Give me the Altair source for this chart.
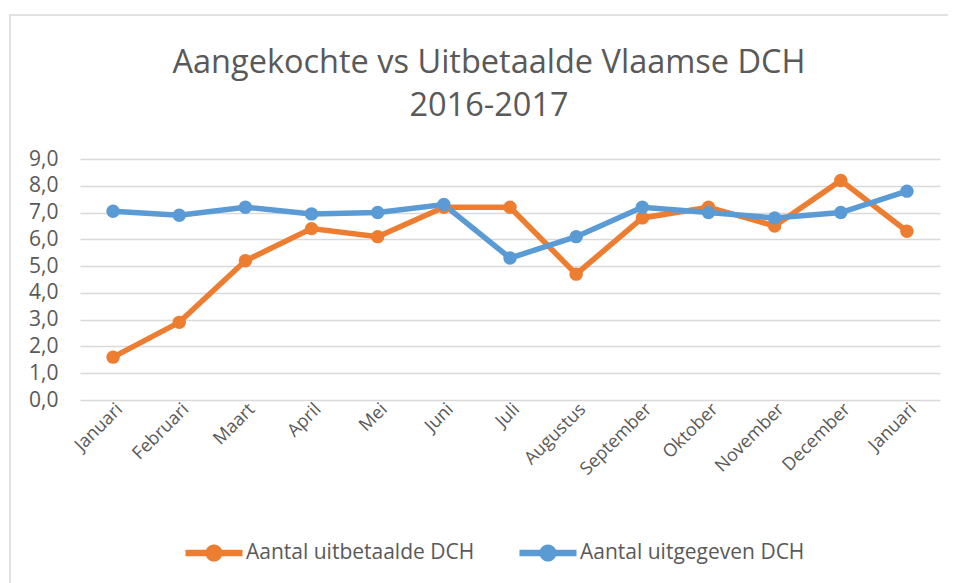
import altair as alt
import pandas as pd

months = ["Januari", "Februari", "Maart", "April", "Mei", "Juni", "Juli",
          "Augustus", "September", "Oktober", "November", "December", "Januari"]
uitbetaald = [1.6, 2.9, 5.2, 6.4, 6.1, 7.2, 7.2, 4.7, 6.8, 7.2, 6.5, 8.2, 6.3]
uitgegeven = [7.05, 6.9, 7.2, 6.95, 7.0, 7.3, 5.3, 6.1, 7.2, 7.0, 6.8, 7.0, 7.8]
series = ["Aantal uitbetaalde DCH", "Aantal uitgegeven DCH"]
colors = ["#ED7D31", "#5B9BD5"]

rows = []
for name, vals in zip(series, [uitbetaald, uitgegeven]):
    for i, v in enumerate(vals):
        rows.append({"idx": i, "maand": months[i], "waarde": v, "reeks": name})
df = pd.DataFrame(rows)

label_arr = "[" + ",".join("'" + m + "'" for m in months) + "]"
FONT = "Open Sans"
GREY = "#595959"

x = alt.X("idx:O", title=None,
          scale=alt.Scale(paddingOuter=0.5),
          axis=alt.Axis(labelExpr=label_arr + "[datum.value]", labelAngle=-45,
                        labelFontSize=18, labelColor=GREY, labelFont=FONT,
                        ticks=False, domain=False, labelPadding=0, grid=False))
y = alt.Y("waarde:Q", title=None,
          scale=alt.Scale(domain=[0, 9], nice=False),
          axis=alt.Axis(values=list(range(10)),
                        labelExpr="replace(format(datum.value, '.1f'), '.', ',')",
                        labelFontSize=21, labelColor=GREY, labelFont=FONT,
                        ticks=False, domain=False, labelPadding=22,
                        gridColor="#D9D9D9", gridWidth=1.5))
color = alt.Color("reeks:N", scale=alt.Scale(domain=series, range=colors),
                  legend=alt.Legend(title=None, orient="none", direction="horizontal",
                                    legendX=105, legendY=365,
                                    symbolType="M-1,-0.115H1V0.115H-1Z M0.3,0 A0.3,0.3 0 1,1 -0.3,0 A0.3,0.3 0 1,1 0.3,0 Z",
                                    symbolSize=3250, symbolStrokeWidth=0,
                                    labelFontSize=21, labelColor=GREY, labelFont=FONT,
                                    labelLimit=0, columnPadding=44, labelOffset=3))

base = alt.Chart(df).encode(x=x, y=y, color=color,
                            order=alt.Order("idx:O"))
lines = base.mark_line(strokeWidth=5.5)
points = base.mark_point(filled=True, size=180, opacity=1)

frame = alt.Chart(pd.DataFrame({"a": [0]})).mark_rect(
    fill=None, stroke="#D9D9D9", strokeWidth=1.5, clip=False
).encode(x=alt.value(-70), x2=alt.value(885), y=alt.value(-144), y2=alt.value(440))

chart = alt.layer(frame, lines, points).properties(
    width=860, height=241,
    autosize=alt.AutoSizeParams(type="none"),
    padding={"left": 72, "top": 151, "right": 8, "bottom": 183},
    title=alt.TitleParams(["Aangekochte vs Uitbetaalde Vlaamse DCH", "2016-2017"],
                          font=FONT, fontSize=32.5, fontWeight="normal", color=GREY,
                          anchor="middle", frame="group", dx=-21,
                          lineHeight=43, offset=-108),
).configure_view(stroke=None)

chart.save("out.html", embed_options={"renderer": "svg", "actions": False})
